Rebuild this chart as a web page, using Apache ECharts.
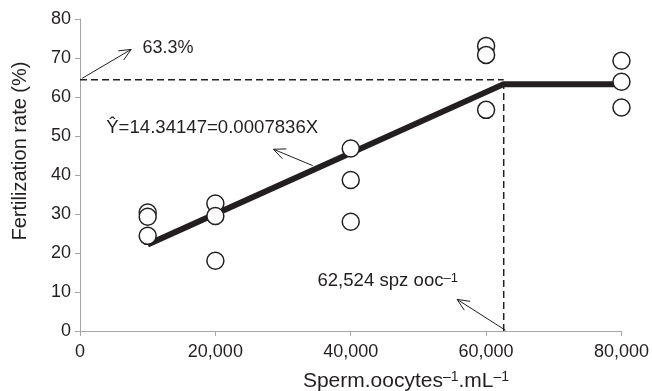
<!DOCTYPE html>
<html>
<head>
<meta charset="utf-8">
<script src="https://cdn.jsdelivr.net/npm/echarts@6/dist/echarts.min.js"></script>
<style>
  html, body { margin: 0; padding: 0; background: #fff; }
  #chart { width: 652px; height: 391px; }
</style>
</head>
<body>
<div id="chart"></div>
<script>
// observed values
const obsX = [10000, 10000, 10000, 20000, 20000, 20000, 40000, 40000, 40000, 60000, 60000, 60000, 80000, 80000, 80000]
const obsY = [30.4, 29.3, 24.4, 32.7, 29.5, 18.0, 46.8, 38.7, 28.0, 73.1, 70.8, 56.7, 69.3, 63.9, 57.3]
// broken-line fit
const fitX = [10000, 62600, 80000]
const fitY = [22.2, 63.3, 63.3]
// dashed guides
const guideH = [[0, 64.4], [62600, 64.4]]
const guideV = [[62600, 0], [62600, 63.3]]
// arrows: x1, y1, x2 (head), y2 (head)
const arrows = [
  [330, 64.8, 7560, 72.2],
  [34390, 42.4, 28580, 46.6],
  [62850, 0.2, 55720, 8.1]
]
// annotation labels
const noteText = ['63.3%', 'Ŷ=14.34147=0.0007836X', '62,524 spz ooc{s|–1}']
const noteX = [9230, 3870, 35080]
const noteY = [72.6, 52.2, 12.8]
const noteSize = [18, 18.6, 18.6]
const xTicks = [0, 20000, 40000, 60000, 80000]

const font = 'Liberation Sans, Arial, sans-serif'
const txt = '#231f20'
const sup = { s: { fontSize: 13, verticalAlign: 'top', fontFamily: font, color: txt, lineHeight: 13 } }
const supBig = { s: { fontSize: 14, verticalAlign: 'top', fontFamily: font, color: txt, lineHeight: 14 } }

const chart = echarts.init(document.getElementById('chart'))

function arrowItem(params, api) {
  const p1 = api.coord([api.value(0), api.value(1)])
  const p2 = api.coord([api.value(2), api.value(3)])
  const ang = Math.atan2(p2[1] - p1[1], p2[0] - p1[0])
  const len = 13, spread = 0.42
  const a = [p2[0] - len * Math.cos(ang - spread), p2[1] - len * Math.sin(ang - spread)]
  const b = [p2[0] - len * Math.cos(ang + spread), p2[1] - len * Math.sin(ang + spread)]
  const st = { stroke: '#231f20', lineWidth: 1, fill: null }
  return {
    type: 'group',
    children: [
      { type: 'line', shape: { x1: p1[0], y1: p1[1], x2: p2[0], y2: p2[1] }, style: st },
      { type: 'polyline', shape: { points: [a, p2, b] }, style: st }
    ]
  }
}

const option = {
  animation: false,
  grid: { left: 80, top: 19, width: 542, height: 312 },
  xAxis: {
    type: 'value', min: 0, max: 80000, interval: 20000,
    axisLine: { lineStyle: { color: '#a6a6a6', width: 1 } },
    axisTick: { show: true, length: 5, lineStyle: { color: '#a6a6a6' } },
    splitLine: { show: false },
    axisLabel: {
      color: txt, fontSize: 18, fontFamily: font, margin: 12,
      formatter: v => xTicks.includes(v) ? v.toLocaleString('en-US') : ''
    }
  },
  yAxis: {
    type: 'value', min: 0, max: 80, interval: 10,
    axisLine: { show: true, lineStyle: { color: '#a6a6a6', width: 1 } },
    axisTick: { show: true, length: 5, lineStyle: { color: '#a6a6a6' } },
    splitLine: { show: false },
    axisLabel: { color: txt, fontSize: 18, fontFamily: font, margin: 9 }
  },
  graphic: [
    {
      type: 'text', x: 406, y: 381,
      style: {
        text: 'Sperm.oocytes{s|–1}.mL{s|–1}', fill: txt, fontSize: 21, fontFamily: font,
        align: 'center', verticalAlign: 'middle', lineHeight: 21, rich: supBig
      }
    },
    {
      type: 'text', x: 20, y: 151, rotation: Math.PI / 2,
      style: { text: 'Fertilization rate (%)', fill: txt, fontSize: 20, fontFamily: font, align: 'center', verticalAlign: 'middle' }
    }
  ],
  series: [
    {
      type: 'line', data: guideH, symbol: 'none', silent: true,
      lineStyle: { color: '#231f20', width: 1.5, type: [7, 4] }
    },
    {
      type: 'line', data: guideV, symbol: 'none', silent: true,
      lineStyle: { color: '#231f20', width: 1.5, type: [7, 4] }
    },
    {
      type: 'line', data: fitX.map((x, i) => [x, fitY[i]]), symbol: 'none',
      lineStyle: { color: '#231f20', width: 6 }
    },
    {
      type: 'custom', renderItem: arrowItem, data: arrows, silent: true
    },
    {
      type: 'scatter', data: obsX.map((x, i) => [x, obsY[i]]), symbol: 'circle', symbolSize: 17,
      itemStyle: { color: '#fff', borderColor: '#231f20', borderWidth: 1.5, opacity: 1 }, z: 5
    },
    {
      type: 'scatter', symbolSize: 0, silent: true, itemStyle: { opacity: 1 },
      data: noteText.map((t, i) => ({
        name: t, value: [noteX[i], noteY[i]],
        label: { fontSize: noteSize[i], lineHeight: noteSize[i] }
      })),
      label: {
        show: true, position: 'right', distance: 0, formatter: p => p.name,
        color: txt, fontFamily: font, rich: sup
      }
    }
  ]
}

chart.setOption(option)
</script>
</body>
</html>
